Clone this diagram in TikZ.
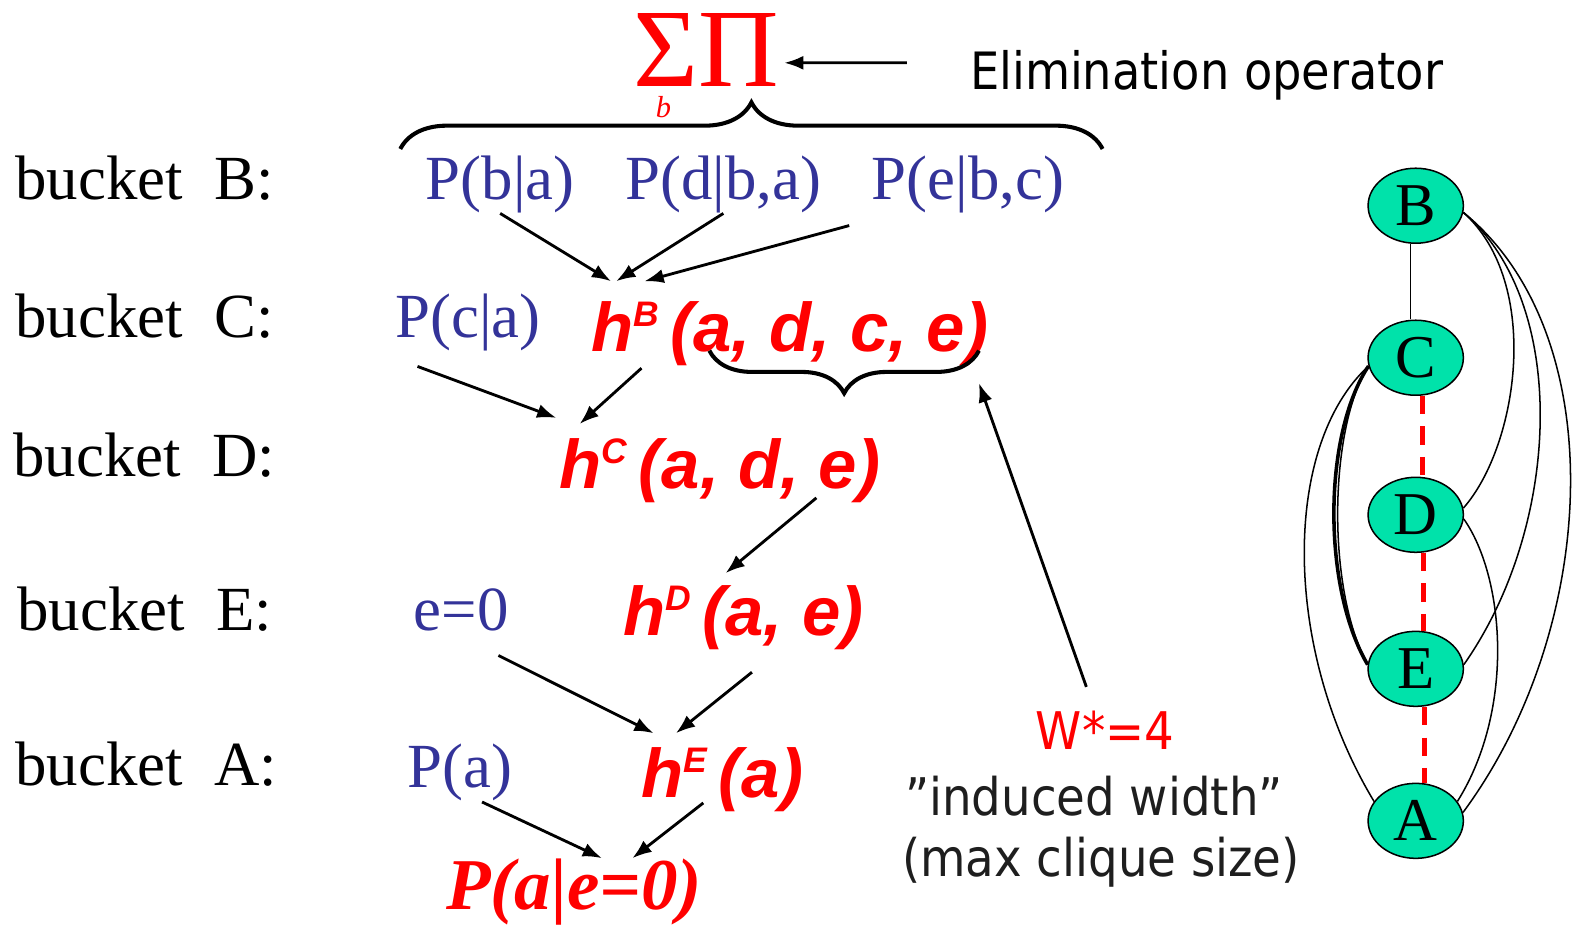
\documentclass[tikz,border=0pt]{standalone}
\usepackage{fontspec}
\setmainfont{Liberation Serif}
\newfontfamily\elimfont{DejaVu Sans Condensed}
\newfontfamily\hfont{Liberation Sans}
\usetikzlibrary{arrows.meta,calc,decorations.pathreplacing,shapes.geometric}
\definecolor{evred}{RGB}{255,0,0}
\definecolor{evblue}{RGB}{51,51,153}
\definecolor{nodegreen}{RGB}{0,226,170}
\definecolor{txtgray}{RGB}{30,30,30}
\newcommand{\hmsg}[2]{{\hfont\bfseries\itshape h\raisebox{25pt}{\fontsize{35}{35}\selectfont #1}\,(#2)}}

\begin{document}
\begin{tikzpicture}[x=1pt,y=-1pt,
  lbl/.style={anchor=base west,inner sep=0pt,font=\fontsize{62}{62}\selectfont},
  prob/.style={lbl,text=evblue},
  msg/.style={anchor=base west,inner sep=0pt,text=evred,font=\fontsize{68}{68}\selectfont},
  remark/.style={anchor=base west,inner sep=0pt,font=\elimfont\fontsize{51.2}{51.2}\selectfont},
  arr/.style={-{Latex[length=19pt,width=14pt]},line width=2.8pt},
  bnode/.style={ellipse,draw,line width=1.5pt,fill=nodegreen,minimum width=94pt,minimum height=74pt,inner sep=0pt,font=\fontsize{60}{60}\selectfont},
  link/.style={line width=1.5pt},
  fillin/.style={line width=5pt,evred,dash pattern=on 18pt off 12pt},
  bracket/.style={line width=4pt,decorate,decoration={brace,amplitude=#1}}]
\useasboundingbox (0,0) rectangle (1568,913);

\node[anchor=base west,inner sep=0pt,text=evred,font=\fontsize{110}{110}\selectfont] (sp) at (625,85) {ΣΠ};
\node[anchor=base west,inner sep=0pt,text=evred,font=\fontsize{30}{30}\selectfont\itshape] (sb) at (647,116) {b};
\node[remark,font=\elimfont\fontsize{50.8}{50.8}\selectfont] (elim) at (957,88) {Elimination operator};
\draw[arr] ($(elim.west)+(-62,-12)$) -- ($(sp.east)+(5,13)$);
\draw[bracket=46pt] (395,147) -- (1088,147);

\node[lbl] (bkB) at (15,197) {bucket~~B:};
\node[lbl] (bkC) at (15,333) {bucket~~C:};
\node[lbl] (bkD) at (13,470) {bucket~~D:};
\node[lbl] (bkE) at (17,622) {bucket~~E:};
\node[lbl] (bkA) at (15,775) {bucket~~A:};

\node[prob] (pba) at (420,197) {P(b|a)};
\node[prob] (pdba) at (617,197) {P(d|b,a)};
\node[prob] (pebc) at (860,197) {P(e|b,c)};
\node[prob] (pca) at (390,333) {P(c|a)};
\node[prob] (ezero) at (408,622) {e=0};
\node[prob] (pa) at (402,777) {P(a)};

\node[msg] (hB) at (583,347) {\hmsg{B}{a, d, c, e}};
\node[msg] (hC) at (552,482) {\hmsg{C}{a, d, e}};
\node[msg] (hD) at (615,627) {\hmsg{D}{a, e}};
\node[msg] (hE) at (633,787) {\hmsg{E}{a}};
\node[anchor=base west,inner sep=0pt,text=evred,font=\fontsize{72}{72}\selectfont\bfseries\itshape] (post) at (440,897) {P(a|e=0)};

\coordinate (brR) at (966,346);
\coordinate (brL) at (700,346);
\draw[bracket=42pt] (brR) -- (brL);

\draw[arr] (pba.south) -- ($(hB.north west)+(20,-20)$);
\draw[arr] (pdba.south) -- ($(hB.north west)+(25,-20)$);
\draw[arr] ($(pebc.south west)+(-22,12)$) -- ($(hB.north west)+(53,-20)$);
\draw[arr] ($(pca.south west)+(22,15)$) -- ($(hC.north west)+(-3,-20)$);
\draw[arr] ($(hB.south west)+(50,2)$) -- ($(hC.north west)+(20,-14)$);
\draw[arr] ($(hC.south east)+(-63,-5)$) -- ($(hD.north west)+(101,-12)$);
\draw[arr] ($(ezero.south east)+(-10,24)$) -- ($(hE.north west)+(12,-14)$);
\draw[arr] ($(hD.south west)+(127,22)$) -- ($(hE.north west)+(34,-14)$);
\draw[arr] ($(pa.south east)+(-30,1)$) -- ($(post.north west)+(154,0)$);
\draw[arr] ($(hE.south west)+(61,-9)$) -- ($(post.north west)+(184,0)$);

\node[remark,text=evred] (w4) at (1022,740) {W*=4};
\node[remark,text=txtgray] (iw) at (893,805) {”induced width”};
\node[remark,text=txtgray] (mcs) at (890,865) {(max clique size)};
\draw[arr] ($(w4.north west)+(50,-24)$) -- ($(brR)+(0,32)$);

\node[bnode] (B) at (1397,203) {B};
\node[bnode] (C) at (1397,353) {C};
\node[bnode] (D) at (1397,508) {D};
\node[bnode] (E) at (1397,660) {E};
\node[bnode] (A) at (1397,810) {A};

\draw[link] ([xshift=-5pt]B.south) -- ([xshift=-5pt]C.north);
\draw[fillin] ([xshift=7pt]C.south) -- ([xshift=7pt]D.north);
\draw[fillin] ([xshift=8pt]D.south) -- ([xshift=8pt]E.north);
\draw[fillin] ([xshift=9pt]E.south) -- ([xshift=9pt]A.north);

\draw[link] (B.-8) .. controls (1522,280) and (1498,440) .. (D.8);
\draw[link] (B.-8) .. controls (1550,300) and (1540,520) .. (E.5);
\draw[link] (B.-8) .. controls (1592,330) and (1578,620) .. (A.10);
\draw[link] (D.-5) .. controls (1485,570) and (1495,700) .. (A.25);
\draw[line width=3.5pt] (C.190) .. controls (1305,430) and (1305,580) .. (E.175);
\draw[link] (C.190) .. controls (1312,420) and (1308,580) .. (E.175);
\draw[link] (C.190) .. controls (1265,440) and (1265,640) .. (A.155);
\end{tikzpicture}
\end{document}
